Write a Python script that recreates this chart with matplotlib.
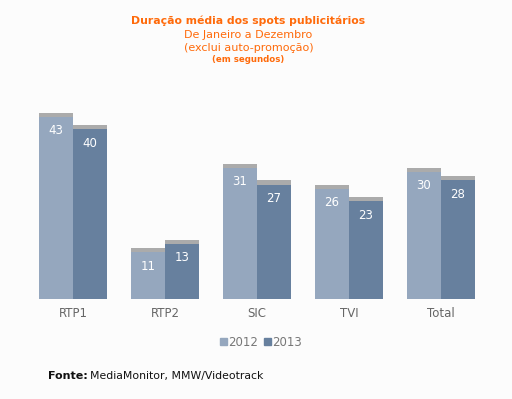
import matplotlib
matplotlib.use("Agg")
import matplotlib.pyplot as plt
import numpy as np
from matplotlib.patches import Patch

categories = ["RTP1", "RTP2", "SIC", "TVI", "Total"]
series_names = ["2012", "2013"]
values_2012 = [43, 11, 31, 26, 30]
values_2013 = [40, 13, 27, 23, 28]

c2012 = "#95A7BE"
c2013 = "#67809E"
cap = "#ABABAB"
orange = "#FF6A0A"

fig = plt.figure(figsize=(5.12, 3.99), dpi=100, facecolor="#FCFCFC")
ax = fig.add_axes([27/512, 100/399, 460/512, 212/399])
ax.set_facecolor("#FCFCFC")
x = np.arange(len(categories))
w = 0.37
for vals, off, col in [(values_2012, -w/2, c2012), (values_2013, w/2, c2013)]:
    ax.bar(x + off, vals, width=w, color=col, zorder=2)
    ax.bar(x + off, [0.95]*len(vals), bottom=vals, width=w*0.98, color=cap, zorder=1)
    for xi, v in zip(x + off, vals):
        ax.text(xi, v - 3.3, str(v), color="white", ha="center", va="center", fontsize=8.5)
ax.set_xlim(-0.5, len(categories) - 0.5)
ax.set_ylim(0, 50)
for s in ax.spines.values():
    s.set_visible(False)
ax.set_yticks([])
ax.set_xticks(x)
ax.set_xticklabels(categories, color="#666666", fontsize=8.5)
ax.tick_params(axis="x", length=0, pad=6)

handles = [Patch(color=c2012), Patch(color=c2013)]
fig.legend(handles, series_names, loc="center", bbox_to_anchor=(261/512, 1 - 342/399),
           ncol=2, frameon=False, fontsize=8.5, handlelength=0.6, handleheight=0.6,
           handletextpad=0.1, columnspacing=0.5, labelcolor="#777777")

fig.text(0.485, 1 - 21/399, "Duração média dos spots publicitários", ha="center", va="center",
         color=orange, fontsize=7.8, fontweight="bold")
fig.text(0.485, 1 - 35/399, "De Janeiro a Dezembro", ha="center", va="center", color=orange, fontsize=8.0)
fig.text(0.485, 1 - 48/399, "(exclui auto-promoção)", ha="center", va="center", color=orange, fontsize=8.0)
fig.text(0.485, 1 - 59/399, "(em segundos)", ha="center", va="center", color=orange, fontsize=6.2, fontweight="bold")

fig.text(48/512, 1 - 376/399, "Fonte:", ha="left", va="center", color="#111111", fontsize=8.0, fontweight="bold")
fig.text(90/512, 1 - 376/399, "MediaMonitor, MMW/Videotrack", ha="left", va="center", color="#111111", fontsize=7.8)

fig.savefig("out.png", dpi=100, facecolor=fig.get_facecolor())
